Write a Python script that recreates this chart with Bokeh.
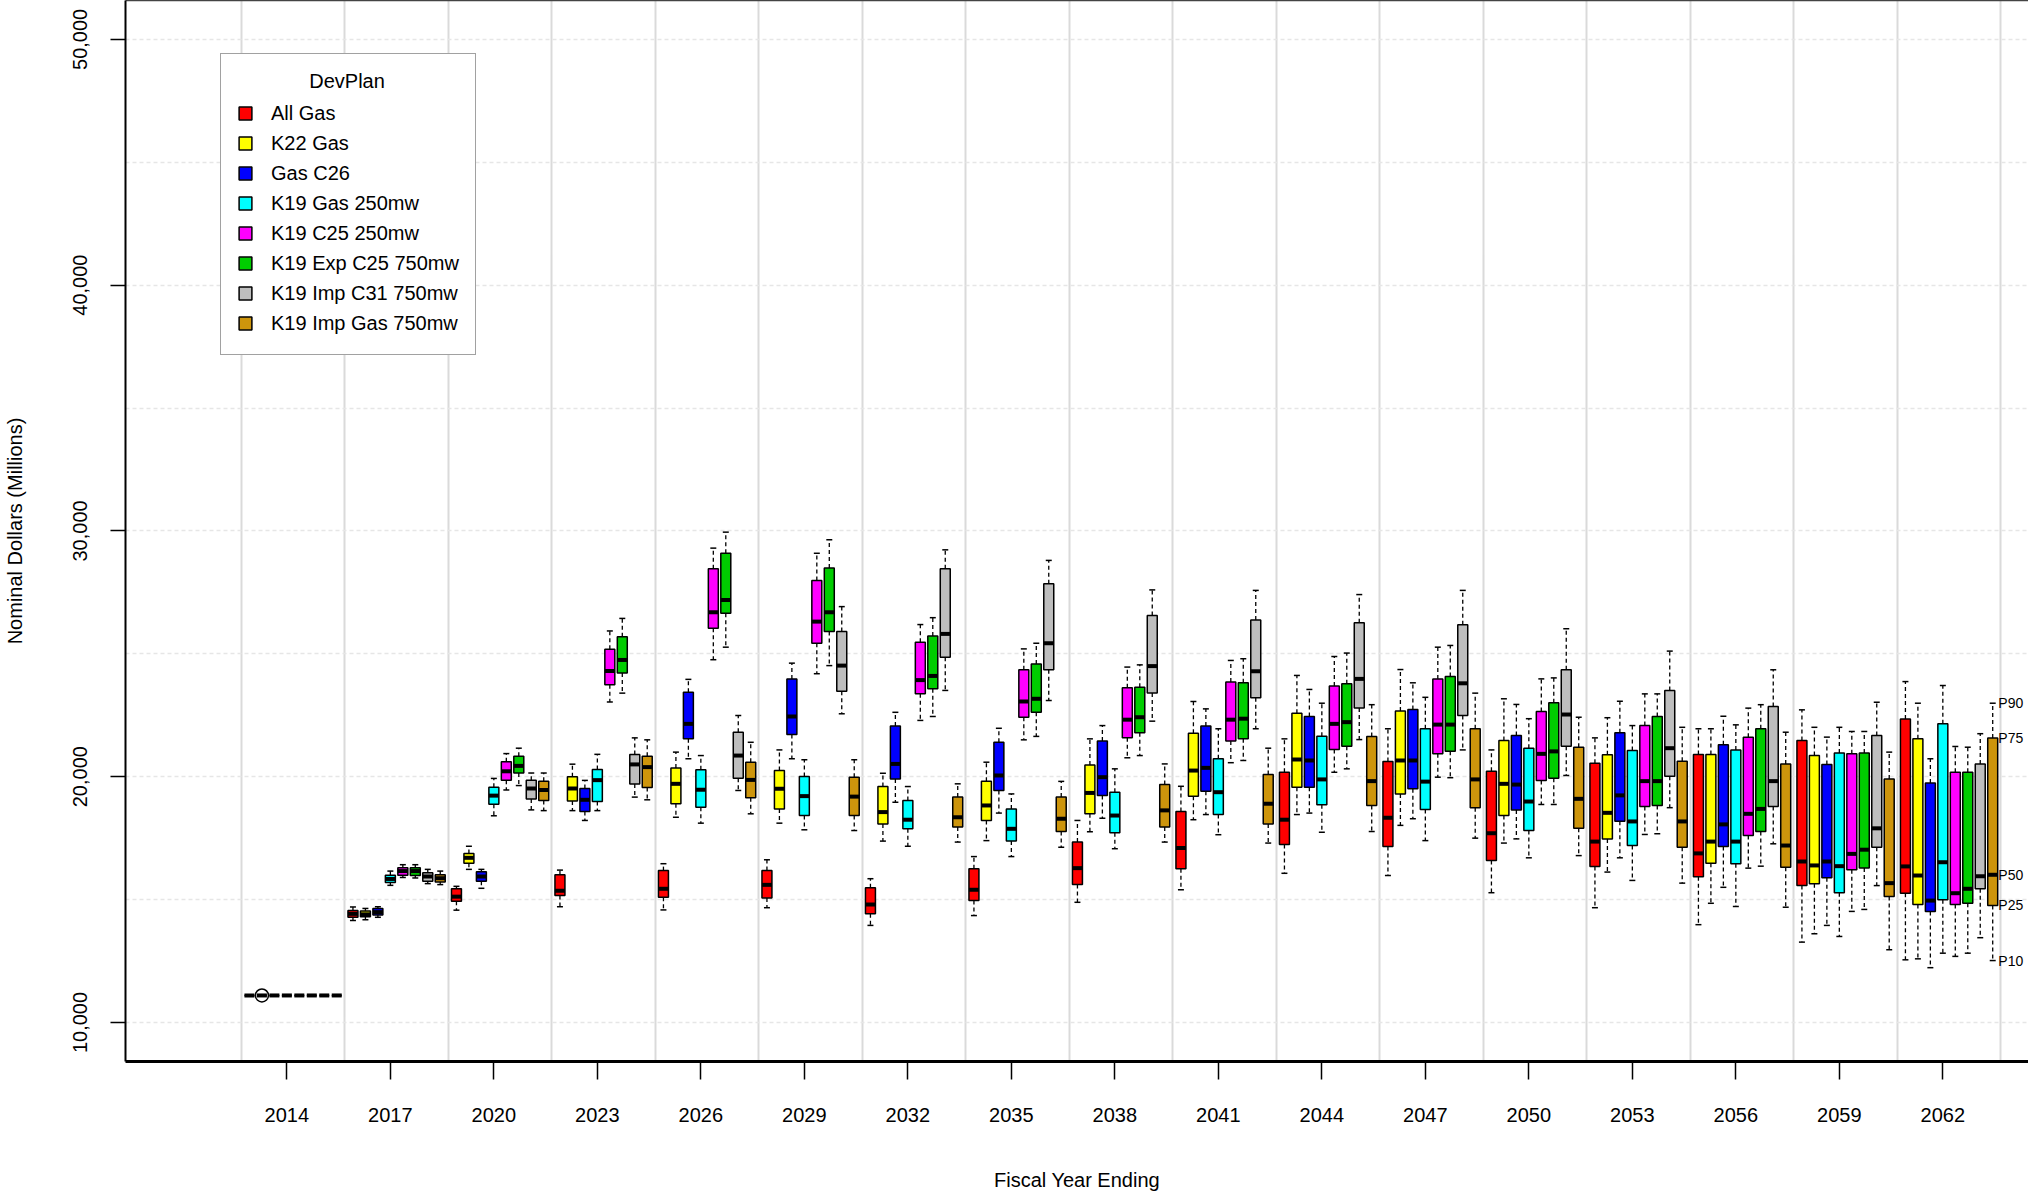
from bokeh.plotting import figure
from bokeh.models import (ColumnDataSource, FixedTicker, NumeralTickFormatter,
                          LinearAxis, Range1d)
from bokeh.core.properties import value
from bokeh.embed import file_html
from bokeh.resources import INLINE

# ---------------- data ----------------
YEARS = [2014, 2017, 2020, 2023, 2026, 2029, 2032, 2035, 2038,
         2041, 2044, 2047, 2050, 2053, 2056, 2059, 2062]

PLANS = ["All Gas", "K22 Gas", "Gas C26", "K19 Gas 250mw", "K19 C25 250mw",
         "K19 Exp C25 750mw", "K19 Imp C31 750mw", "K19 Imp Gas 750mw"]
COLORS = ["#FF0000", "#FFFF00", "#0000FF", "#00FFFF", "#FF00FF",
          "#00CD00", "#BEBEBE", "#CD950C"]

# All Gas
all_gas_p10 = [11100, 14150, 14570, 14710, 14580, 14670, 13950, 14350, 14890, 15400, 16070, 15980, 15280, 14670, 13980, 13270, 12550]
all_gas_p25 = [11100, 14280, 14930, 15170, 15100, 15070, 14420, 14960, 15610, 16250, 17240, 17160, 16590, 16350, 15930, 15570, 15260]
all_gas_p50 = [11100, 14420, 15120, 15360, 15440, 15600, 14800, 15400, 16280, 17100, 18250, 18330, 17700, 17360, 16880, 16550, 16350]
all_gas_p75 = [11100, 14560, 15440, 16010, 16180, 16180, 15480, 16250, 17340, 18580, 20180, 20620, 20220, 20550, 20900, 21470, 22350]
all_gas_p90 = [11100, 14700, 15540, 16200, 16460, 16620, 15850, 16750, 18220, 19610, 21540, 21950, 21090, 21580, 21950, 22720, 23870]
# K22 Gas
k22_gas_p10 = [11100, 14180, 16230, 18620, 18350, 18110, 17380, 17400, 17760, 18250, 18460, 18020, 17300, 16120, 14850, 13610, 12590]
k22_gas_p25 = [11100, 14300, 16480, 19010, 18900, 18690, 18080, 18220, 18490, 19200, 19570, 19300, 18420, 17470, 16480, 15640, 14800]
k22_gas_p50 = [11100, 14400, 16700, 19520, 19710, 19510, 18560, 18830, 19340, 20250, 20700, 20660, 19710, 18530, 17360, 16390, 15980]
k22_gas_p75 = [11100, 14540, 16880, 20000, 20350, 20250, 19600, 19820, 20480, 21770, 22580, 22670, 21470, 20890, 20900, 20860, 21540]
k22_gas_p90 = [11100, 14640, 17170, 20510, 21000, 21090, 20140, 20590, 21540, 23060, 24120, 24360, 23170, 22400, 21950, 22010, 22990]
# Gas C26
gas_c26_p10 = [11100, 14280, 15460, 18220, 20730, 20730, 18960, 18520, 18310, 18460, 18520, 18290, 17470, 16700, 15500, 13950, 12230]
gas_c26_p25 = [11100, 14370, 15750, 18580, 21540, 21720, 19910, 19440, 19240, 19410, 19570, 19510, 18650, 18190, 17160, 15890, 14520]
gas_c26_p50 = [11100, 14490, 15940, 19060, 22150, 22450, 20520, 20050, 19980, 20360, 20660, 20660, 19680, 19240, 18060, 16550, 14960]
gas_c26_p75 = [11100, 14640, 16130, 19520, 23440, 23980, 22060, 21400, 21450, 22060, 22450, 22730, 21680, 21790, 21300, 20500, 19740]
gas_c26_p90 = [11100, 14710, 16230, 19850, 23960, 24620, 22620, 21970, 22080, 22760, 23550, 23820, 22940, 23070, 22460, 21610, 20730]
# K19 Gas 250mw
k19_gas_p10 = [11100, 15580, 18410, 18620, 18110, 17840, 17170, 16750, 17070, 17640, 17740, 17400, 16700, 15780, 14720, 13500, 12820]
k19_gas_p25 = [11100, 15700, 18880, 18990, 18760, 18420, 17880, 17380, 17720, 18460, 18860, 18670, 17810, 17200, 16460, 15280, 14990]
k19_gas_p50 = [11100, 15840, 19230, 19860, 19470, 19210, 18250, 17880, 18420, 19370, 19890, 19800, 18990, 18180, 17360, 16360, 16520]
k19_gas_p75 = [11100, 15990, 19570, 20290, 20280, 20010, 19030, 18690, 19370, 20730, 21650, 21950, 21160, 21070, 21090, 20960, 22150]
k19_gas_p90 = [11100, 16160, 19930, 20910, 20860, 20690, 19600, 19300, 20320, 21950, 22990, 23230, 22360, 22080, 22110, 22010, 23710]
# K19 C25 250mw
k19_c25_p10 = [11100, 15900, 19460, 23040, 24760, 24190, 22290, 21500, 20770, 20570, 20180, 19980, 18870, 17650, 16280, 14520, 12690]
k19_c25_p25 = [11100, 15990, 19860, 23740, 26040, 25430, 23370, 22420, 21580, 21450, 21110, 20930, 19850, 18790, 17610, 16210, 14800]
k19_c25_p50 = [11100, 16160, 20220, 24300, 26690, 26310, 23930, 23060, 22320, 22320, 22150, 22120, 20930, 19820, 18490, 16860, 15260]
k19_c25_p75 = [11100, 16300, 20610, 25190, 28460, 27980, 25470, 24350, 23620, 23850, 23690, 23980, 22650, 22080, 21610, 20930, 20180]
k19_c25_p90 = [11100, 16420, 20940, 25930, 29300, 29090, 26190, 25200, 24460, 24730, 24890, 25270, 23980, 23370, 22790, 21840, 21230]
# K19 Exp C25 750mw
k19_exp_p10 = [11100, 15880, 19640, 23400, 25270, 24520, 22450, 21640, 20860, 20660, 20320, 19960, 18870, 17680, 16360, 14600, 12820]
k19_exp_p25 = [11100, 15980, 20150, 24220, 26650, 25910, 23580, 22620, 21790, 21540, 21240, 21040, 19940, 18830, 17770, 16290, 14850]
k19_exp_p50 = [11100, 16160, 20440, 24750, 27190, 26690, 24100, 23170, 22420, 22360, 22220, 22120, 21030, 19820, 18690, 17030, 15440]
k19_exp_p75 = [11100, 16300, 20830, 25690, 29090, 28490, 25720, 24590, 23640, 23820, 23780, 24080, 23010, 22450, 21950, 20960, 20180]
k19_exp_p90 = [11100, 16420, 21160, 26440, 29950, 29640, 26470, 25430, 24550, 24800, 25030, 25340, 24020, 23370, 22930, 21840, 21200]
# K19 Imp C31 750mw
k19_imp_c31_p10 = [11100, 15650, 18650, 19170, 19440, 22560, 23510, 23100, 22260, 21950, 21510, 21090, 20050, 18740, 17270, 15570, 13450]
k19_imp_c31_p25 = [11100, 15750, 19090, 19700, 19940, 23480, 24860, 24350, 23410, 23210, 22800, 22490, 21240, 20020, 18790, 17130, 15440]
k19_imp_c31_p50 = [11100, 15940, 19520, 20500, 20860, 24520, 25810, 25430, 24500, 24290, 23980, 23800, 22530, 21160, 19820, 17900, 15950]
k19_imp_c31_p75 = [11100, 16090, 19860, 20900, 21810, 25910, 28460, 27850, 26560, 26380, 26260, 26180, 24350, 23510, 22860, 21680, 20520]
k19_imp_c31_p90 = [11100, 16230, 20150, 21580, 22490, 26920, 29230, 28800, 27600, 27580, 27410, 27580, 26020, 25110, 24350, 23030, 21750]
# K19 Imp Gas 750mw
k19_imp_gas_p10 = [11100, 15610, 18620, 19060, 18490, 17810, 17340, 17130, 17340, 17300, 17770, 17500, 16790, 15670, 14690, 12960, 12520]
k19_imp_gas_p25 = [11100, 15720, 19030, 19560, 19140, 18420, 17950, 17770, 17950, 18080, 18830, 18740, 17900, 17130, 16320, 15130, 14760]
k19_imp_gas_p50 = [11100, 15870, 19460, 20390, 19870, 19190, 18350, 18290, 18630, 18900, 19820, 19890, 19100, 18180, 17200, 15670, 16010]
k19_imp_gas_p75 = [11100, 16010, 19810, 20830, 20590, 19980, 19170, 19170, 19680, 20090, 21640, 21950, 21200, 20630, 20520, 19910, 21570]
k19_imp_gas_p90 = [11100, 16160, 20150, 21500, 21400, 20690, 19710, 19810, 20520, 21160, 22930, 23400, 22420, 22010, 21810, 21000, 22990]

# single outlier shown in the first year
OUTLIER_YEAR = [2014]
OUTLIER_PLAN = ["K22 Gas"]
OUTLIER_VALUE = [11100]

PCT_LABELS = ["P10", "P25", "P50", "P75", "P90"]
LEGEND_TITLE = "DevPlan"

plan_stats = [
    (all_gas_p10, all_gas_p25, all_gas_p50, all_gas_p75, all_gas_p90),
    (k22_gas_p10, k22_gas_p25, k22_gas_p50, k22_gas_p75, k22_gas_p90),
    (gas_c26_p10, gas_c26_p25, gas_c26_p50, gas_c26_p75, gas_c26_p90),
    (k19_gas_p10, k19_gas_p25, k19_gas_p50, k19_gas_p75, k19_gas_p90),
    (k19_c25_p10, k19_c25_p25, k19_c25_p50, k19_c25_p75, k19_c25_p90),
    (k19_exp_p10, k19_exp_p25, k19_exp_p50, k19_exp_p75, k19_exp_p90),
    (k19_imp_c31_p10, k19_imp_c31_p25, k19_imp_c31_p50, k19_imp_c31_p75, k19_imp_c31_p90),
    (k19_imp_gas_p10, k19_imp_gas_p25, k19_imp_gas_p50, k19_imp_gas_p75, k19_imp_gas_p90),
]

# ---------------- layout constants ----------------
SLOT = 10          # distance between neighbouring boxes
GROUP = 83         # distance between year groups
BOX_W = 8
STAPLE = 2.4
FONT = "Liberation Sans"

def xpos(g, j):
    return g * GROUP + j * SLOT

p = figure(width=2028, height=1193,
           x_range=Range1d(-99.4, 1426.7), y_range=Range1d(8413, 51580),
           output_backend="svg", toolbar_location=None,
           min_border_left=125, min_border_right=0,
           min_border_top=0, min_border_bottom=132)
p.background_fill_color = "white"
p.border_fill_color = "white"
p.outline_line_color = None

# grids
p.xgrid.ticker = FixedTicker(ticks=[xpos(g, 0) - (GROUP - 7 * SLOT) / 2 for g in range(len(YEARS) + 1)])
p.xgrid.grid_line_color = "#DADADA"
p.xgrid.grid_line_width = 2
p.ygrid.ticker = FixedTicker(ticks=list(range(10000, 50001, 5000)))
p.ygrid.grid_line_color = "#E6E6E6"
p.ygrid.grid_line_width = 1.5
p.ygrid.grid_line_dash = "4 3"

for j, (name, color) in enumerate(zip(PLANS, COLORS)):
    p10, p25, p50, p75, p90 = plan_stats[j]
    xs = [xpos(g, j) for g in range(len(YEARS))]
    src = ColumnDataSource(dict(
        x=xs, xl=[x - STAPLE for x in xs], xr=[x + STAPLE for x in xs],
        bl=[x - BOX_W / 2 for x in xs], br=[x + BOX_W / 2 for x in xs],
        p10=p10, p25=p25, p50=p50, p75=p75, p90=p90))
    p.segment(x0="x", y0="p75", x1="x", y1="p90", source=src,
              line_color="black", line_width=1.3, line_dash="4 3")
    p.segment(x0="x", y0="p25", x1="x", y1="p10", source=src,
              line_color="black", line_width=1.3, line_dash="4 3")
    p.segment(x0="xl", y0="p90", x1="xr", y1="p90", source=src,
              line_color="black", line_width=1.5)
    p.segment(x0="xl", y0="p10", x1="xr", y1="p10", source=src,
              line_color="black", line_width=1.5)
    p.vbar(x="x", width=BOX_W, bottom="p25", top="p75", source=src,
           fill_color=color, line_color="black", line_width=1.5,
           legend_label=name)
    p.segment(x0="bl", y0="p50", x1="br", y1="p50", source=src,
              line_color="black", line_width=4)

# outlier
ox = [xpos(YEARS.index(y), PLANS.index(pl)) for y, pl in zip(OUTLIER_YEAR, OUTLIER_PLAN)]
p.scatter(x=ox, y=OUTLIER_VALUE, size=13, marker="circle",
          fill_color=None, line_color="black", line_width=1.5)

# percentile labels next to the last box
last = len(YEARS) - 1
last_j = len(PLANS) - 1
lab_y = [s[last] for s in plan_stats[last_j]]
p.text(x=[xpos(last, last_j) + BOX_W / 2 + 0.5] * 5, y=lab_y, text=PCT_LABELS,
       text_font=value(FONT), text_font_size="14px", text_color="black",
       text_align="left", text_baseline="middle")

# axes
p.xaxis.ticker = FixedTicker(ticks=[xpos(g, 3) for g in range(len(YEARS))])
p.xaxis.major_label_overrides = {xpos(g, 3): str(y) for g, y in enumerate(YEARS)}
p.xaxis.axis_label = "Fiscal Year Ending"
p.xaxis.axis_line_width = 3
p.xaxis.axis_line_color = "black"
p.xaxis.major_tick_out = 18
p.xaxis.major_tick_in = 0
p.xaxis.minor_tick_line_color = None
p.xaxis.major_label_standoff = 28
p.xaxis.axis_label_standoff = 44

p.yaxis.ticker = FixedTicker(ticks=list(range(10000, 50001, 10000)))
p.yaxis.formatter = NumeralTickFormatter(format="0,0")
p.yaxis.major_label_orientation = "vertical"
p.yaxis.axis_label = "Nominal Dollars (Millions)"
p.yaxis.axis_line_width = 2
p.yaxis.axis_line_color = "black"
p.yaxis.major_tick_out = 15
p.yaxis.major_tick_in = 0
p.yaxis.minor_tick_line_color = None
p.yaxis.major_label_standoff = 23
p.yaxis.axis_label_standoff = 45

for ax in (p.xaxis, p.yaxis):
    ax.major_tick_line_color = "black"
    ax.major_tick_line_width = 1.5
    ax.major_label_text_font = FONT
    ax.major_label_text_font_size = "20px"
    ax.major_label_text_color = "black"
    ax.axis_label_text_font = FONT
    ax.axis_label_text_font_size = "20px"
    ax.axis_label_text_font_style = "normal"
    ax.axis_label_text_color = "black"

top_axis = LinearAxis(ticker=FixedTicker(ticks=[]), axis_line_color="#444444",
                      axis_line_width=1.5, major_tick_out=0, major_tick_in=0,
                      minor_tick_out=0, minor_tick_in=0,
                      major_label_text_font_size="0px", major_label_standoff=0)
p.add_layout(top_axis, "above")

# legend (title pushed toward the centre with no-break spaces)
leg = p.legend[0]
leg.location = (95, 706)
leg.title = "\u00a0" * 13 + LEGEND_TITLE
leg.title_text_font = FONT
leg.title_text_font_size = "20px"
leg.title_text_font_style = "normal"
leg.title_text_color = "black"
leg.title_standoff = 5
leg.label_text_font = FONT
leg.label_text_font_size = "20px"
leg.label_text_color = "black"
leg.glyph_width = 16
leg.glyph_height = 16
leg.label_height = 30
leg.label_standoff = 18
leg.spacing = 0
leg.padding = 16
leg.margin = 0
leg.border_line_color = "#444444"
leg.border_line_width = 1.5
leg.background_fill_alpha = 1.0

open("out.html", "w").write(file_html(p, INLINE))
